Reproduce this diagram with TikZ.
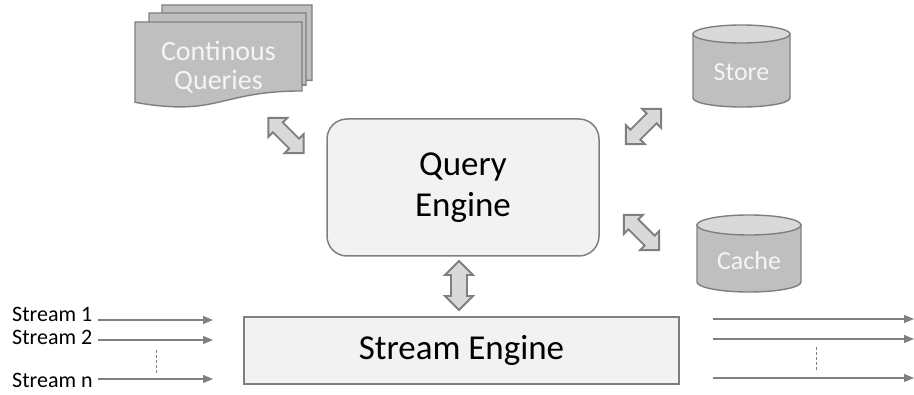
\documentclass[tikz,border=0pt]{standalone}
\usepackage{fontspec}
\setmainfont{Carlito}
\usetikzlibrary{arrows.meta}
\definecolor{docfill}{HTML}{BFBFBF}
\definecolor{docline}{HTML}{7F7F7F}
\definecolor{boxfill}{HTML}{F2F2F2}
\definecolor{boxline}{HTML}{7F7F7F}
\definecolor{arrfill}{HTML}{D9D9D9}
\definecolor{cyltop}{HTML}{D9D9D9}
\definecolor{streamgray}{HTML}{808080}
\definecolor{lighttext}{HTML}{F5F5F5}
\tikzset{
  docsheet/.style={fill=docfill, draw=docline, line width=1.4pt},
  enginebox/.style={fill=boxfill, draw=boxline, line width=1.5pt, inner sep=0pt},
  blockarrow/.style={fill=arrfill, draw=boxline, line width=1.9pt, line join=miter},
  cylbody/.style={fill=docfill, draw=docline, line width=1.4pt},
  cyltopstyle/.style={fill=cyltop, draw=docline, line width=1.4pt},
  streamarrow/.style={draw=streamgray, line width=1.1pt, -{Triangle[length=10pt,width=8pt]}},
  streamdash/.style={draw=streamgray, line width=0.8pt, dash pattern=on 3pt off 2pt},
  bigtext/.style={font=\fontsize{35}{41}\selectfont, text=black, align=center},
  lighttextstyle/.style={text=lighttext, align=center},
  streamlabel/.style={font=\fontsize{22}{26}\selectfont, text=black, anchor=base west, inner sep=0pt}
}
\newcommand{\docpath}[4]{% x0, y0, x1, h
  (#1,#2) -- (#3,#2) -- (#3,{#2+0.802*#4})
  .. controls ({(#1+#3)/2},{#2+0.802*#4}) and ({(#1+#3)/2},{#2+1.1075*#4}) .. (#1,{#2+0.934*#4}) -- cycle}
% block double arrow: centre (#1,#2), angle #3, length #4, head width #5, shaft width #6, head length #7
\newcommand{\blockarr}[8]{%
  \begin{scope}[shift={(#1,#2)}, rotate=#3]
    \path[blockarrow] ({-#4/2},0) -- ({-#4/2+#7},{#5/2}) -- ({-#4/2+#7},{#6/2}) -- ({#4/2-#7},{#6/2})
      -- ({#4/2-#7},{#5/2}) -- ({#4/2},0) -- ({#4/2-#7},{-#5/2}) -- ({#4/2-#7},{-#6/2})
      -- ({-#4/2+#7},{-#6/2}) -- ({-#4/2+#7},{-#5/2}) -- cycle;
    \coordinate (#8) at (0,0);
  \end{scope}}
\begin{document}
\begin{tikzpicture}[x=1pt,y=-1pt]
\useasboundingbox (0,0) rectangle (914,395);

% Continuous queries (multi document)
\path[docsheet] \docpath{162}{5}{312}{94};
\path[docsheet] \docpath{149}{13}{306}{90};
\path[docsheet] \docpath{135}{22}{302}{86};
\node[lighttextstyle, font=\fontsize{28}{29}\selectfont] (cq) at (218.5,67) {Continous\\Queries};

% Query engine
\node[enginebox, rounded corners=20pt, minimum width=272pt, minimum height=137pt, bigtext] (qe) at (463,187.5) {Query\\Engine};

% Store cylinder
\path[cylbody] (693,34) -- (693,98) arc[start angle=180, end angle=0, x radius=48.5, y radius=9] -- (790,34) -- cycle;
\path[cyltopstyle] (741.5,34) ellipse[x radius=48.5, y radius=9];
\node[lighttextstyle, font=\fontsize{26}{30}\selectfont] (store) at (741.5,72) {Store};

% Cache cylinder
\path[cylbody] (697,225) -- (697,282) arc[start angle=180, end angle=0, x radius=52, y radius=10] -- (801,225) -- cycle;
\path[cyltopstyle] (749,225) ellipse[x radius=52, y radius=10];
\node[lighttextstyle, font=\fontsize{26}{30}\selectfont] (cache) at (749,261) {Cache};

% Stream engine
\node[enginebox, minimum width=435pt, minimum height=67pt, bigtext] (se) at (461.5,350.5) {Stream Engine};

% Block arrows
\blockarr{459}{285.5}{90}{49}{28}{16}{14}{a1}
\blockarr{286}{135.5}{-45}{50}{27}{14}{13.5}{a2}
\blockarr{643.5}{126.5}{45}{50}{27}{14}{13.5}{a3}
\blockarr{641.5}{232.5}{-45}{50}{27}{14}{13.5}{a4}

% Input streams
\node[streamlabel] (s1) at (12,322) {Stream 1};
\node[streamlabel] (s2) at (12,345) {Stream 2};
\node[streamlabel] (sn) at (12,388) {Stream n};
\coordinate (s1a) at (98,320); \coordinate (s1b) at (213,320);
\coordinate (s2a) at (98,340); \coordinate (s2b) at (213,340);
\coordinate (sna) at (98,379); \coordinate (snb) at (213,379);
\draw[streamarrow] (s1a) -- (s1b);
\draw[streamarrow] (s2a) -- (s2b);
\draw[streamarrow] (sna) -- (snb);
\coordinate (ld1) at (156,350); \coordinate (ld2) at (156,373);
\draw[streamdash] (ld1) -- (ld2);

% Output streams
\coordinate (o1a) at (713,319); \coordinate (o1b) at (914,319);
\coordinate (o2a) at (713,339); \coordinate (o2b) at (914,339);
\coordinate (ona) at (713,378); \coordinate (onb) at (914,378);
\draw[streamarrow] (o1a) -- (o1b);
\draw[streamarrow] (o2a) -- (o2b);
\draw[streamarrow] (ona) -- (onb);
\coordinate (rd1) at (816,347); \coordinate (rd2) at (816,372);
\draw[streamdash] (rd1) -- (rd2);
\end{tikzpicture}
\end{document}
